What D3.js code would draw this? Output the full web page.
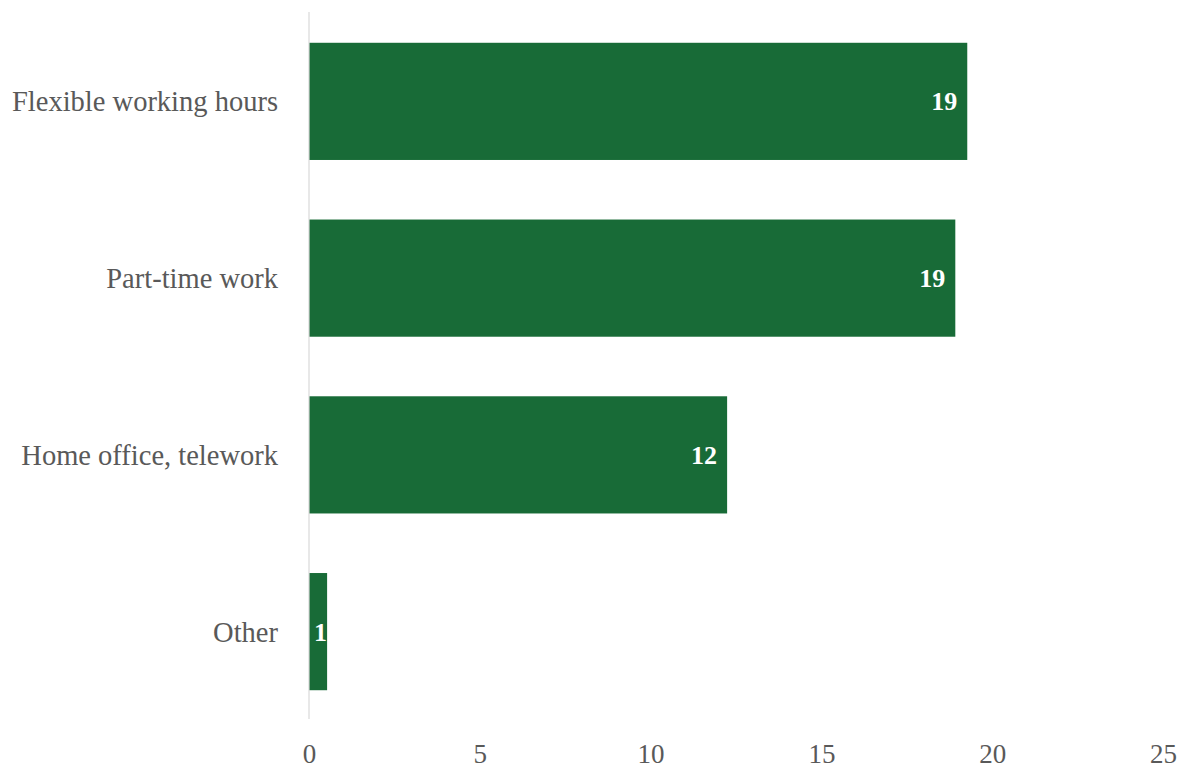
<!DOCTYPE html>
<html>
<head>
<meta charset="utf-8">
<script src="https://cdn.jsdelivr.net/npm/d3@7"></script>
<style>
  html, body { margin: 0; padding: 0; background: #fff; }
  svg { display: block; }
</style>
</head>
<body>
<svg id="chart" width="1177" height="769"></svg>
<script>
const categories = ["Flexible working hours", "Part-time work", "Home office, telework", "Other"];
const values = [19.27, 18.92, 12.24, 0.53];
const valueLabels = ["19", "19", "12", "1"];
const tickValues = [0, 5, 10, 15, 20, 25];

const margin = { top: 13, left: 309 };
const font = "'Liberation Serif', 'DejaVu Serif', serif";

const svg = d3.select("#chart");

const x = d3.scaleLinear().domain([0, 25]).range([margin.left, 1163]);
const y = d3.scaleBand().domain(categories).range([margin.top, 720]).paddingInner(0.337).paddingOuter(0.1685);

// bars
svg.append("g").selectAll("rect")
  .data(categories)
  .join("rect")
  .attr("x", x(0))
  .attr("y", d => y(d))
  .attr("width", (d, i) => x(values[i]) - x(0))
  .attr("height", y.bandwidth())
  .attr("fill", "#186b37");

// vertical axis line
svg.append("line")
  .attr("x1", x(0)).attr("x2", x(0))
  .attr("y1", 12).attr("y2", 719)
  .attr("stroke", "#d9d9d9").attr("stroke-width", 1.2);

// category labels
svg.append("g").selectAll("text")
  .data(categories)
  .join("text")
  .attr("x", 278)
  .attr("y", d => y(d) + y.bandwidth() / 2)
  .attr("dy", "0.35em")
  .attr("text-anchor", "end")
  .attr("font-family", font)
  .attr("font-size", 28.5)
  .attr("fill", "#595959")
  .text(d => d);

// value labels
const vl = svg.append("g").selectAll("text")
  .data(categories)
  .join("text")
  .attr("y", d => y(d) + y.bandwidth() / 2)
  .attr("dy", "0.35em")
  .attr("text-anchor", "end")
  .attr("font-family", font)
  .attr("font-size", 26)
  .attr("font-weight", "bold")
  .attr("fill", "#ffffff")
  .text((d, i) => valueLabels[i]);
vl.each(function(d, i) {
  const w = this.getComputedTextLength();
  const xe = Math.max(x(values[i]) - 10, x(0) + 5 + w);
  d3.select(this).attr("x", xe);
});

// x axis tick labels
const xAxis = d3.axisBottom(x).tickValues(tickValues).tickSize(0).tickPadding(0).tickFormat(d3.format("d"));
const gx = svg.append("g").attr("transform", `translate(0, 744)`).call(xAxis);
gx.select(".domain").remove();
gx.selectAll("text")
  .attr("font-family", font)
  .attr("font-size", 27)
  .attr("fill", "#595959");
</script>
</body>
</html>
